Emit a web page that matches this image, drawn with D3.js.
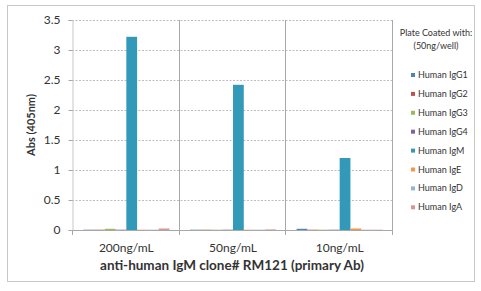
<!DOCTYPE html>
<html>
<head>
<meta charset="utf-8">
<script src="https://cdn.jsdelivr.net/npm/d3@7"></script>
<style>
  body { margin: 0; background: #fff; }
  text { font-family: Lato, "Open Sans", sans-serif; fill: #333; }
</style>
</head>
<body>
<svg id="chart" width="481" height="291"></svg>
<script>
'use strict';

// Chart data
const concentrations = ['200ng/mL', '50ng/mL', '10ng/mL'];
const series = ['Human IgG1', 'Human IgG2', 'Human IgG3', 'Human IgG4',
                'Human IgM', 'Human IgE', 'Human IgD', 'Human IgA'];
const seriesColors = ['#4f81bd', '#c0504d', '#9bbb59', '#8064a2',
                      '#3399b8', '#f79646', '#95b3d7', '#d99694'];
// values[series][concentration]
const igG1 = [0.005, 0.005, 0.02];
const igG2 = [0.005, 0.005, 0.005];
const igG3 = [0.02, 0.005, 0.005];
const igG4 = [0.005, 0.005, 0.005];
const igM  = [3.22, 2.42, 1.2];
const igE  = [0.005, 0.005, 0.025];
const igD  = [0.005, 0.005, 0.005];
const igA  = [0.025, 0.01, 0.005];
const values = [igG1, igG2, igG3, igG4, igM, igE, igD, igA];
const yTicks = [0, 0.5, 1, 1.5, 2, 2.5, 3, 3.5];

const svg = d3.select('#chart');
const plot = { left: 72, right: 392, top: 20, bottom: 230 };

// outer frame
svg.append('rect')
    .attr('x', 7.5).attr('y', 5.5).attr('width', 467).attr('height', 276)
    .attr('fill', 'none').attr('stroke', '#c8c8c8');

const x0 = d3.scaleBand().domain(concentrations).range([plot.left, plot.right]);
const x1 = d3.scaleBand().domain(series)
    .range([0, x0.bandwidth()]).paddingOuter(0.95);
const y = d3.scaleLinear().domain([0, 3.5]).range([plot.bottom, plot.top]);

// horizontal dashed grid
svg.append('g').selectAll('line').data(yTicks.filter(d => d > 0)).join('line')
    .attr('x1', plot.left).attr('x2', plot.right)
    .attr('y1', d => Math.round(y(d)) + 0.5).attr('y2', d => Math.round(y(d)) + 0.5)
    .attr('stroke', '#bdbdbd').attr('stroke-dasharray', '2,1.5');

// group separators and right border
const seps = concentrations.map(c => x0(c) + x0.bandwidth());
svg.append('g').selectAll('line').data(seps).join('line')
    .attr('x1', d => Math.round(d) + 0.5).attr('x2', d => Math.round(d) + 0.5)
    .attr('y1', plot.top).attr('y2', plot.bottom + 5)
    .attr('stroke', '#a8a8a8');

// bars
svg.append('g').selectAll('g').data(series).join('g')
    .attr('fill', (d, i) => seriesColors[i])
  .selectAll('rect').data((s, i) => values[i].map((v, j) => ({ s, c: concentrations[j], v })))
  .join('rect')
    .attr('x', d => x0(d.c) + x1(d.s) + 1)
    .attr('width', x1.bandwidth())
    .attr('y', d => y(d.v))
    .attr('height', d => y(0) - y(d.v));

// y axis
const yAxis = svg.append('g')
    .attr('transform', `translate(${plot.left + 0.5},0)`)
    .call(d3.axisLeft(y).tickValues(yTicks).tickFormat(d3.format('')).tickSize(4).tickPadding(8));
yAxis.select('.domain').attr('stroke', '#c8c8c8');
yAxis.selectAll('.tick line').attr('stroke', '#a8a8a8');
yAxis.selectAll('.tick text').style('font-size', '12px').attr('fill', '#444');

// x axis line and labels
svg.append('line')
    .attr('x1', plot.left).attr('x2', plot.right)
    .attr('y1', plot.bottom + 0.5).attr('y2', plot.bottom + 0.5)
    .attr('stroke', '#a8a8a8');
svg.append('line')
    .attr('x1', plot.left + 0.5).attr('x2', plot.left + 0.5)
    .attr('y1', plot.bottom).attr('y2', plot.bottom + 5)
    .attr('stroke', '#a8a8a8');

svg.append('g').selectAll('text').data(concentrations).join('text')
    .attr('x', d => x0(d) + x0.bandwidth() / 2 + 1)
    .attr('y', 252)
    .attr('text-anchor', 'middle')
    .style('font-size', '12px')
    .attr('fill', '#444')
    .text(d => d);

svg.append('text')
    .attr('x', 232).attr('y', 270)
    .attr('text-anchor', 'middle')
    .style('font-size', '13.5px').style('font-weight', 'bold')
    .attr('fill', '#222')
    .text('anti-human IgM clone# RM121 (primary Ab)');

svg.append('text')
    .attr('transform', 'translate(35,125) rotate(-90)')
    .attr('text-anchor', 'middle')
    .style('font-size', '11px').style('font-weight', 'bold')
    .attr('fill', '#222')
    .text('Abs (405nm)');

// legend
svg.append('text')
    .attr('x', 436).attr('y', 36)
    .attr('text-anchor', 'middle')
    .style('font-size', '9px')
    .text('Plate Coated with:');
svg.append('text')
    .attr('x', 436).attr('y', 49)
    .attr('text-anchor', 'middle')
    .style('font-size', '9px')
    .text('(50ng/well)');

const legend = svg.append('g').selectAll('g').data(series).join('g')
    .attr('transform', (d, i) => `translate(411,${75 + i * 18.9})`);
legend.append('rect')
    .attr('x', 0).attr('y', -2).attr('width', 4).attr('height', 4)
    .attr('fill', (d, i) => seriesColors[i]);
legend.append('text')
    .attr('x', 7).attr('y', 3)
    .style('font-size', '9px')
    .text(d => d);
</script>
</body>
</html>
